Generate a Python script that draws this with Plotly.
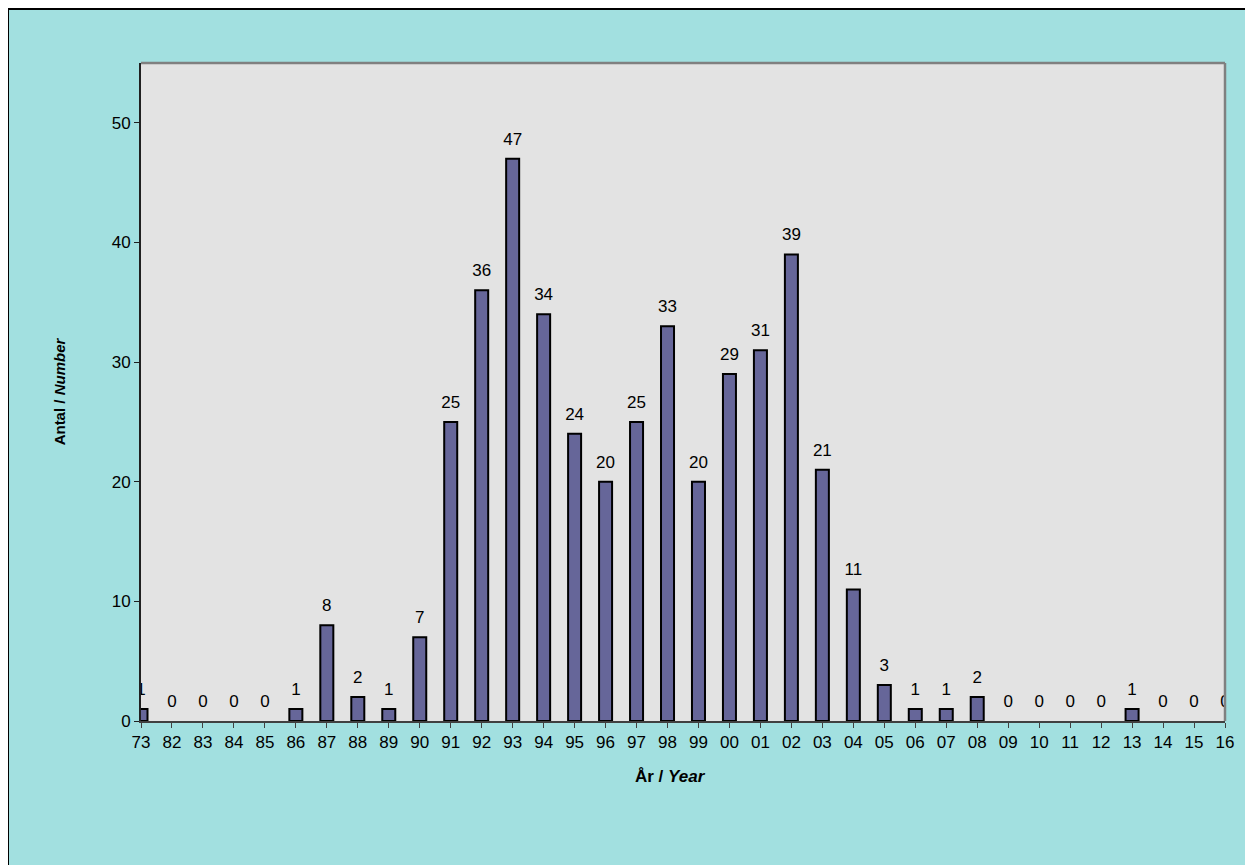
"""Bar chart: antal per år (Number per year)."""

import plotly.graph_objects as go

years = ["73", "82", "83", "84", "85", "86", "87", "88", "89", "90", "91", "92",
         "93", "94", "95", "96", "97", "98", "99", "00", "01", "02", "03", "04",
         "05", "06", "07", "08", "09", "10", "11", "12", "13", "14", "15", "16"]
counts = [1, 0, 0, 0, 0, 1, 8, 2, 1, 7, 25, 36,
          47, 34, 24, 20, 25, 33, 20, 29, 31, 39, 21, 11,
          3, 1, 1, 2, 0, 0, 0, 0, 1, 0, 0, 0]
y_ticks = [0, 10, 20, 30, 40, 50]

FONT = "Arial, Liberation Sans, sans-serif"

# plot area in figure pixels (page has an 8px body margin)
PL, PT, PW, PH = 133, 55, 1084, 658

fig = go.Figure()
fig.add_trace(
    go.Bar(
        x=years,
        y=counts,
        width=0.42,
        marker={
            "color": "#666699",
            "line": {"color": "black", "width": [2 if c else 0 for c in counts]},
        },
        hoverinfo="x+y",
    )
)
# value labels, floated a bit above each bar (invisible marker pushes text up)
fig.add_trace(
    go.Scatter(
        x=years,
        y=counts,
        mode="markers+text",
        text=[str(c) for c in counts],
        textposition="top center",
        marker={"size": 14, "opacity": 0},
        textfont={"family": FONT, "size": 17, "color": "black"},
        cliponaxis=True,
        hoverinfo="skip",
    )
)

fig.update_layout(
    width=1253,
    height=865,
    paper_bgcolor="#A2E0E0",
    plot_bgcolor="#E3E3E3",
    showlegend=False,
    font={"family": FONT, "size": 17, "color": "black"},
    margin={"l": PL, "r": 1253 - PL - PW, "t": PT, "b": 865 - PT - PH},
    xaxis={
        "type": "category",
        "range": [0, len(years) - 1],
        "showline": True,
        "linecolor": "#404040",
        "linewidth": 2,
        "ticks": "outside",
        "ticklen": 5,
        "tickcolor": "#404040",
        "showgrid": False,
        "tickfont": {"size": 17},
    },
    yaxis={
        "range": [0, 55],
        "tickvals": y_ticks,
        "showline": True,
        "linecolor": "#202020",
        "linewidth": 2,
        "ticks": "outside",
        "ticklen": 5,
        "tickcolor": "#202020",
        "showgrid": False,
        "zeroline": False,
        "tickfont": {"size": 17},
        "title": {"text": "<b>Antal / <i>Number</i></b>", "font": {"size": 15}, "standoff": 42},
    },
)

# x axis title sits a little left of centre in the original
fig.add_annotation(
    text="<b>År / <i>Year</i></b>",
    xref="paper", yref="paper",
    x=(670 - 141) / PW, y=-(777 - 721) / PH,
    xanchor="center", yanchor="middle",
    showarrow=False,
    font={"family": FONT, "size": 17, "color": "black"},
)

# gray frame on top/right of plot area
fig.add_shape(type="line", xref="paper", yref="paper", x0=0, x1=1, y0=1, y1=1,
              line={"color": "#808080", "width": 2.5})
fig.add_shape(type="line", xref="paper", yref="paper", x0=1, x1=1, y0=0, y1=1,
              line={"color": "#808080", "width": 2.5})

# outer chart border (left and top visible)
fig.add_shape(type="rect", xref="paper", yref="paper",
              x0=(0 - PL) / PW, x1=(1300 - PL) / PW,
              y0=(PT + PH - 900) / PH, y1=(PT + PH - 1) / PH,
              line={"color": "black", "width": 2})

fig.write_html("out.html")
